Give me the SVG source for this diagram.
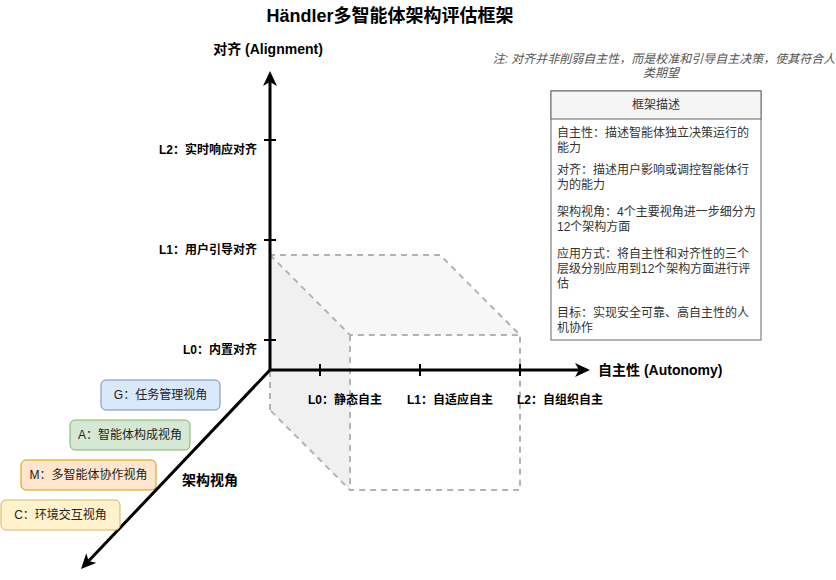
<svg xmlns="http://www.w3.org/2000/svg" width="836" height="580" viewBox="0 0 836 580">
  <style>
    text { font-family: "Liberation Sans", "Noto Sans CJK SC", sans-serif; fill: #000; }
    .title { font-size: 18px; font-weight: bold; }
    .axis-label { font-size: 14px; font-weight: bold; }
    .lvl { font-size: 12px; font-weight: bold; }
    .note { font-size: 12px; font-style: italic; fill: #555; }
    .body { font-size: 12px; fill: #333; }
    .persp { font-size: 12px; fill: #222; }
    .axis { stroke: #000; stroke-width: 3; fill: none; }
    .tick { stroke: #000; stroke-width: 2; }
    .cube { stroke: #b3b3b3; stroke-width: 2; stroke-dasharray: 6 5; }
  </style>
  <defs>
    <marker id="arrow" viewBox="0 0 15 14" refX="4" refY="7" markerWidth="15" markerHeight="14" markerUnits="userSpaceOnUse" orient="auto">
      <path d="M0,0 L15,7 L0,14 L4,7 Z" fill="#000"/>
    </marker>
  </defs>

  <!-- Title -->
  <text class="title" x="390" y="16" text-anchor="middle" dominant-baseline="central">Händler多智能体架构评估框架</text>

  <!-- Cube (evaluation space) -->
  <g id="cube">
    <polygon points="270,255 350,335 350,490 270,410" fill="#f0f0f0" stroke="none"/>
    <polygon points="270,255 440,255 520,335 350,335" fill="#f7f7f7" stroke="none"/>
    <polyline class="cube" fill="none" points="270,410 270,255 440,255 520,335 520,490 350,490 270,410"/>
    <polyline class="cube" fill="none" points="270,255 350,335 520,335"/>
    <line class="cube" x1="350" y1="335" x2="350" y2="490"/>
  </g>

  <!-- Axes / connectors -->
  <g id="connectors">
    <line class="axis" x1="270" y1="370" x2="270" y2="82" marker-end="url(#arrow)"/>
    <line class="axis" x1="270" y1="370" x2="579" y2="370" marker-end="url(#arrow)"/>
    <line class="axis" x1="270" y1="370" x2="88.6" y2="561" marker-end="url(#arrow)"/>
    <line class="tick" x1="264" y1="140" x2="276" y2="140"/>
    <line class="tick" x1="264" y1="240" x2="276" y2="240"/>
    <line class="tick" x1="264" y1="340" x2="276" y2="340"/>
    <line class="tick" x1="320" y1="364" x2="320" y2="376"/>
    <line class="tick" x1="420" y1="364" x2="420" y2="376"/>
    <line class="tick" x1="520" y1="364" x2="520" y2="376"/>
  </g>

  <!-- Axis labels -->
  <g id="axis-labels">
    <text class="axis-label" x="268" y="49" text-anchor="middle" dominant-baseline="central">对齐 (Alignment)</text>
    <text class="axis-label" x="598" y="370" dominant-baseline="central">自主性 (Autonomy)</text>
    <text class="axis-label" x="182" y="480" dominant-baseline="central">架构视角</text>
  </g>

  <!-- Alignment levels -->
  <g id="alignment-levels">
    <text class="lvl" x="257" y="150" text-anchor="end" dominant-baseline="central">L2：实时响应对齐</text>
    <text class="lvl" x="257" y="250" text-anchor="end" dominant-baseline="central">L1：用户引导对齐</text>
    <text class="lvl" x="257" y="350" text-anchor="end" dominant-baseline="central">L0：内置对齐</text>
  </g>

  <!-- Autonomy levels -->
  <g id="autonomy-levels">
    <text class="lvl" x="308" y="400" dominant-baseline="central">L0：静态自主</text>
    <text class="lvl" x="407" y="400" dominant-baseline="central">L1：自适应自主</text>
    <text class="lvl" x="517" y="400" dominant-baseline="central">L2：自组织自主</text>
  </g>

  <!-- Perspectives -->
  <g id="persp-G">
    <rect x="101" y="380" width="119" height="30" rx="5" fill="#dae8fc" stroke="#6c8ebf"/>
    <text class="persp" x="160.5" y="395" text-anchor="middle" dominant-baseline="central">G：任务管理视角</text>
  </g>
  <g id="persp-A">
    <rect x="70" y="420" width="120" height="30" rx="5" fill="#d5e8d4" stroke="#82b366"/>
    <text class="persp" x="130" y="435" text-anchor="middle" dominant-baseline="central">A：智能体构成视角</text>
  </g>
  <g id="persp-M">
    <rect x="21" y="460" width="135" height="30" rx="5" fill="#ffe6cc" stroke="#d79b00"/>
    <text class="persp" x="88.5" y="475" text-anchor="middle" dominant-baseline="central">M：多智能体协作视角</text>
  </g>
  <g id="persp-C">
    <rect x="1" y="500" width="119" height="30" rx="5" fill="#fff2cc" stroke="#d6b656"/>
    <text class="persp" x="60.5" y="515" text-anchor="middle" dominant-baseline="central">C：环境交互视角</text>
  </g>

  <!-- Note -->
  <g id="note">
    <text class="note" x="664" y="59" text-anchor="middle" dominant-baseline="central">注: 对齐并非削弱自主性，而是校准和引导自主决策，使其符合人</text>
    <text class="note" x="661" y="73" text-anchor="middle" dominant-baseline="central">类期望</text>
  </g>

  <!-- Description box -->
  <g id="description">
    <rect x="551" y="91" width="210" height="249" fill="#ffffff" stroke="#666666"/>
    <rect x="551" y="91" width="210" height="28" fill="#f5f5f5" stroke="#666666"/>
    <text class="body" x="656" y="105" text-anchor="middle" dominant-baseline="central">框架描述</text>
    <text class="body" x="557" y="133" dominant-baseline="central">自主性：描述智能体独立决策运行的</text>
    <text class="body" x="557" y="148" dominant-baseline="central">能力</text>
    <text class="body" x="557" y="170" dominant-baseline="central">对齐：描述用户影响或调控智能体行</text>
    <text class="body" x="557" y="185" dominant-baseline="central">为的能力</text>
    <text class="body" x="557" y="212" dominant-baseline="central">架构视角：4个主要视角进一步细分为</text>
    <text class="body" x="557" y="227" dominant-baseline="central">12个架构方面</text>
    <text class="body" x="557" y="254" dominant-baseline="central">应用方式：将自主性和对齐性的三个</text>
    <text class="body" x="557" y="269" dominant-baseline="central">层级分别应用到12个架构方面进行评</text>
    <text class="body" x="557" y="284" dominant-baseline="central">估</text>
    <text class="body" x="557" y="313" dominant-baseline="central">目标：实现安全可靠、高自主性的人</text>
    <text class="body" x="557" y="328" dominant-baseline="central">机协作</text>
  </g>
</svg>
